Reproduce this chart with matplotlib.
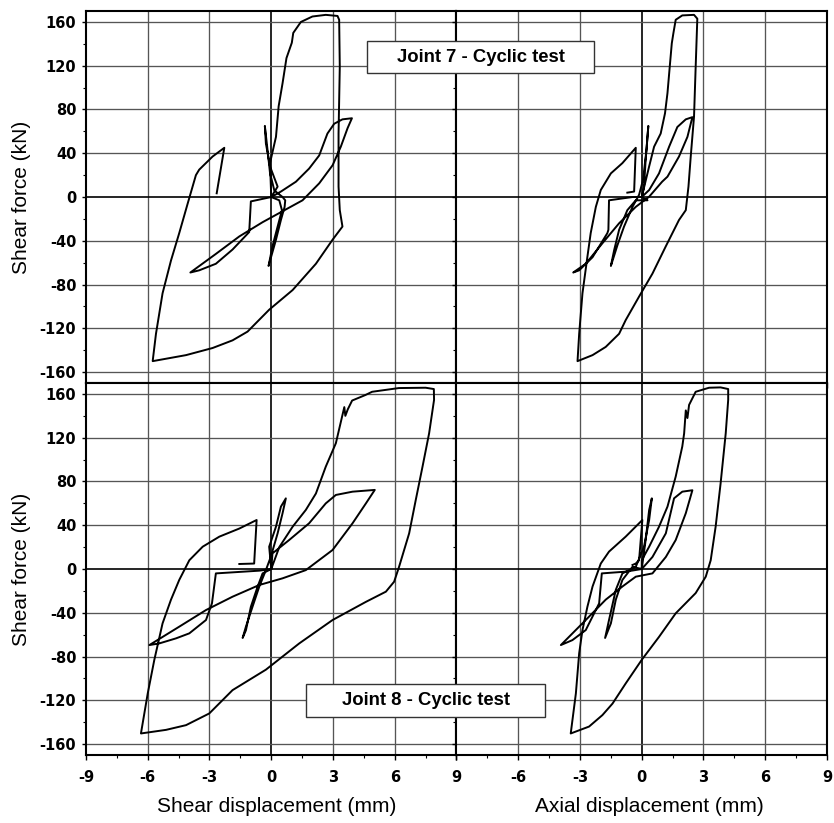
import numpy as np
import matplotlib
matplotlib.use("Agg")
import matplotlib.pyplot as plt
from matplotlib.patches import Rectangle

# Joint 7 - shear displacement (mm) vs shear force (kN)
j7_shear_x = [0, 0.31, -0.06, -0.26, -0.31, -0.18, -0.06, 0.15, 0.55, 0.68, 0.65, 0.47, 0.23, -0.13, 0.06, 0.31, 0.52, 0.39, 0,
              0.47, 1.2, 1.84, 2.33, 2.73, 3.06, 3.46, 3.92, 3.71, 3.38, 2.98, 2.33, 1.52, 0.55, -0.42, -1.55, -2.69, -3.93,
              -3.5, -2.69, -1.88, -1.07, -0.99, 0,
              -0.06, 0.23, 0.36, 0.55, 0.74, 1.0, 1.07, 1.44, 2.0, 2.65, 3.22, 3.3, 3.33, 3.27, 3.27, 3.33, 3.46, 2.98, 2.17,
              1.04, -0.1, -1.15, -1.88, -2.85, -4.14, -5.76, -5.6, -5.28, -4.87, -4.47, -4.06, -3.66, -3.5, -2.85, -2.28, -2.65]
j7_shear_y = [0, 9.5, 28, 49, 65, 43, 22, 6, 0, -3, -9, -21, -39, -63, -45, -27, -12, -3, 0,
              5, 14, 26, 38, 58, 67, 71, 72, 63, 46, 29, 12.5, -3, -13, -23, -36, -52, -69,
              -67, -61, -48, -32, -4, 0,
              31, 55, 83, 104, 127, 141, 150, 160, 165, 166.5, 165.5, 162, 119, 58, 9.5, -12, -27, -39, -61,
              -85, -103, -123, -131, -138, -144.5, -150, -125, -88, -58, -33, -6, 20, 25, 37, 45, 3.4]

# Joint 7 - axial displacement (mm) vs shear force (kN)
j7_axial_x = [0, 0.11, 0.19, 0.32, 0.23, 0.06, -0.13, -0.45, -0.86, -1.18, -1.5, -1.34, -1.1, -0.7, -0.29, 0.28, 0,
              0.36, 0.84, 1.33, 1.73, 2.14, 2.46, 2.22, 1.81, 1.25, 0.99, 0.36, -0.29, -1.1, -1.9, -2.72, -3.33,
              -3.04, -2.39, -1.67, -1.62, -1.59, -0.45, 0,
              0.36, 0.6, 0.92, 1.13, 1.25, 1.36, 1.46, 1.54, 1.65, 1.97, 2.54, 2.7, 2.62, 2.54, 2.38, 2.27, 2.14, 1.81,
              1.17, 0.52, -0.13, -0.78, -1.1, -1.75, -2.39, -3.12, -3.04, -2.88, -2.64, -2.48, -2.23, -1.99, -1.5,
              -0.94, -0.29, -0.37, -0.7]
j7_axial_y = [0, 9.5, 34, 65, 43, 15.5, 2, -9, -27, -44, -63, -48.5, -30, -12, -3, -3, 0,
              6.4, 21.6, 46, 64, 71, 73, 55, 37, 18.6, 14, 0.3, -9, -24, -42, -61, -69,
              -67, -55, -33, -30, -3, 0, 0,
              28, 46, 58, 76.5, 95, 119, 140.5, 150, 162, 166, 166.5, 163, 119, 73.5, 37, 9.5, -12, -21,
              -45, -70, -91, -112.5, -125, -137, -144.5, -150, -125, -88, -54.6, -33, -9, 6.4, 21.6,
              31, 45, 5, 4]

# Joint 8 - shear displacement (mm) vs shear force (kN)
j8_shear_x = [0, -0.1, 0.23, 0.47, 0.71, 0.55, 0.31, -0.02, -0.26, -0.58, -0.91, -1.23, -1.39, -1.23, -0.99, -0.66, -0.42, 0,
              0.06, 0.87, 1.84, 2.65, 3.14, 3.95, 5.03, 4.6, 3.95, 2.98, 1.68, 0.55, -0.58, -1.88, -3.17, -4.47, -5.92,
              -5.44, -4.63, -3.98, -3.17, -2.88, -2.69, -0.58, 0,
              0.39, 1.04, 1.68, 2.17, 2.65, 3.14, 3.55, 3.6, 3.72, 3.93, 4.57, 4.9, 6.2, 7.5, 7.9, 7.91, 7.67, 7.35,
              7.02, 6.7, 6.21, 5.97, 5.57, 4.6, 2.98, 1.36, -0.26, -1.88, -3.01, -4.14, -5.11, -6.33, -6.0, -5.68,
              -5.28, -4.87, -4.47, -3.98, -3.33, -2.52, -1.55, -0.71, -0.83, -1.55]
j8_shear_y = [0, 20.4, 38.7, 57, 64.6, 51, 32.6, 11.3, -1, -16, -34.5, -52.7, -63, -56, -34.5, -16, -4, 0,
              14.3, 26.5, 41.8, 60, 67.7, 70.7, 72.3, 60, 41.8, 17.4, -1, -8.5, -14.6, -25.3, -37.5, -52.7, -69.5,
              -68, -63.4, -58.8, -46.6, -31.4, -4, -1.5, 0,
              20, 38.7, 54, 69, 93.6, 115, 148, 140, 146, 154, 159, 162, 165.4, 165.7, 164.5, 154.6, 124, 93.6,
              63, 32.6, 2, -11.6, -20.7, -30, -46.6, -68, -92, -110.7, -132, -142.7, -147, -150.3, -113.7, -83,
              -49.7, -28, -10, 8, 20.4, 29.6, 37, 44.8, 5, 4.6]

# Joint 8 - axial displacement (mm) vs shear force (kN)
j8_axial_x = [0, 0.19, 0.36, 0.49, 0.36, 0.11, -0.29, -0.94, -1.26, -1.59, -1.78, -1.5, -1.26, -0.94, -0.45, 0,
              0.52, 1.17, 1.57, 1.97, 2.46, 2.14, 1.65, 1.17, 0.52, -0.29, -0.94, -1.75, -2.72, -3.93,
              -3.37, -2.72, -2.07, -1.94, -0.78, 0,
              0, 0.36, 0.84, 1.25, 1.65, 1.97, 2.06, 2.14, 2.22, 2.3, 2.62, 3.27, 3.83, 4.2, 4.2, 4.08, 3.83, 3.59,
              3.35, 3.11, 2.62, 1.65, 0.84, 0, -0.78, -1.42, -1.91, -2.56, -3.45, -3.2, -3.04, -2.88, -2.64, -2.39,
              -1.99, -1.59, -0.78, 0.03, -0.13, -0.29, -0.45]
j8_axial_y = [0, 26.5, 54, 64.6, 44.8, 20.4, 2, -4, -19, -46.6, -63, -49.7, -28, -10, 2, 0,
              11, 32.6, 64.6, 70.7, 72, 51, 26.5, 11, -4, -7, -16, -28, -46.6, -69.5,
              -65, -55.8, -31.4, -4, -2.4, 0,
              8, 20.4, 38.7, 57, 84.5, 112, 124, 145, 138, 150, 162, 165.7, 166, 164.5, 154.6, 124, 78, 38.7,
              8, -7, -22, -40.5, -62, -83, -104.6, -123, -133.5, -144, -150.3, -113.7, -77, -55.8, -34.5, -16,
              5, 15.9, 29.6, 44.8, 8, 5, 3.7]

x_ticks = [-9, -6, -3, 0, 3, 6, 9]
y_ticks = [-160, -120, -80, -40, 0, 40, 80, 120, 160]

fig, axes = plt.subplots(2, 2, figsize=(8.34, 8.23), dpi=100,
                         gridspec_kw=dict(wspace=0, hspace=0))
fig.subplots_adjust(left=0.1031, right=0.9916, top=0.9866, bottom=0.0826)

data = [[(j7_shear_x, j7_shear_y), (j7_axial_x, j7_axial_y)],
        [(j8_shear_x, j8_shear_y), (j8_axial_x, j8_axial_y)]]

tick_font = dict(family="DejaVu Sans", weight="bold", size=10.5)

for r in range(2):
    for c in range(2):
        ax = axes[r, c]
        xs, ys = data[r][c]
        ax.plot(xs, ys, color="black", lw=1.4, zorder=3)
        ax.set_xlim(-9, 9)
        ax.set_ylim(-170, 170)
        ax.set_xticks(x_ticks)
        ax.set_xticks(np.arange(-7.5, 9, 3), minor=True)
        ax.set_yticks(y_ticks)
        ax.set_yticks(np.arange(-140, 170, 40), minor=True)
        for v in x_ticks[1:-1]:
            ax.axvline(v, color="black" if v == 0 else "#555555", lw=1.2 if v == 0 else 0.95, zorder=1)
        for v in y_ticks:
            ax.axhline(v, color="black" if v == 0 else "#555555", lw=1.2 if v == 0 else 0.95, zorder=1)
        for s in ax.spines.values():
            s.set_linewidth(1.5)
        ax.tick_params(which="major", direction="out", length=3.6, width=1.0, pad=7)
        ax.tick_params(which="minor", direction="out", length=2.0, width=0.8)
        ax.tick_params(axis="y", which="major", length=3.0, pad=4)
        ax.set_xticklabels([str(v) for v in x_ticks], fontdict=tick_font)
        ax.set_yticklabels([str(v) for v in y_ticks], fontdict=tick_font)
        if r == 0:
            ax.tick_params(labelbottom=False)
        if c == 1:
            ax.tick_params(labelleft=False)
            ax.set_xticklabels([""] + [str(v) for v in x_ticks[1:]], fontdict=tick_font)

label_font = dict(family="Liberation Sans", size=15)
fig.text(0.026, 1 - 197 / 823, "Shear force (kN)", rotation=90, ha="center", va="center", **label_font)
fig.text(0.026, 1 - 569 / 823, "Shear force (kN)", rotation=90, ha="center", va="center", **label_font)
fig.text(277 / 834, 1 - 807 / 823, "Shear displacement (mm)", ha="center", va="center", **label_font)
fig.text(649 / 834, 1 - 807 / 823, "Axial displacement (mm)", ha="center", va="center", **label_font)

# title boxes
boxes = [("Joint 7 - Cyclic test", 367, 41, 594, 73),
         ("Joint 8 - Cyclic test", 306, 684, 545, 717)]
for txt, x0, y0, x1, y1 in boxes:
    fig.patches.append(Rectangle((x0 / 834, 1 - y1 / 823), (x1 - x0) / 834, (y1 - y0) / 823,
                                 transform=fig.transFigure, facecolor="white",
                                 edgecolor="#333333", lw=1.0, zorder=10))
    fig.text((x0 + x1) / 2 / 834, 1 - (y0 + y1) / 2 / 823, txt, ha="center", va="center",
             family="Liberation Sans", weight="bold", size=13.3, zorder=11)

fig.savefig("out.png", dpi=100)
